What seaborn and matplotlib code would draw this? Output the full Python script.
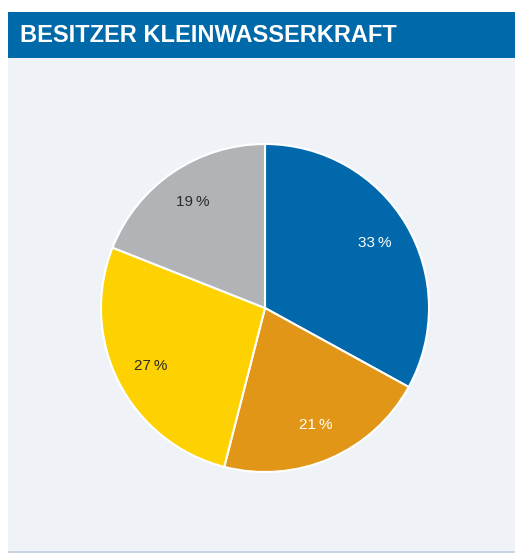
import matplotlib
matplotlib.use("Agg")
import matplotlib.pyplot as plt
import seaborn as sns
from matplotlib.patches import Rectangle

# data
owners = ["A", "B", "C", "D"]
shares = [33, 21, 27, 19]
colors = ["#0068AB", "#E19617", "#FDD200", "#B2B3B6"]
label_colors = ["white", "white", "#2b2b2b", "#2b2b2b"]
title = "BESITZER KLEINWASSERKRAFT"

sns.set_theme(style="white")
plt.rcParams['font.family'] = ['Liberation Sans Narrow', 'Liberation Sans', 'DejaVu Sans']

W, H = 516, 554
fig = plt.figure(figsize=(W / 100, H / 100), dpi=100)
fig.patch.set_facecolor("white")

# panel background + title bar (pixel coords converted to figure fraction)
def px_rect(x0, y0, x1, y1, **kw):
    fig.patches.append(Rectangle((x0 / W, 1 - y1 / H), (x1 - x0) / W, (y1 - y0) / H,
                                 transform=fig.transFigure, zorder=-5, **kw))

px_rect(8, 58, 515, 552, facecolor="#EFF3F8", edgecolor="none")
px_rect(8, 551, 515, 553, facecolor="#C9D5E2", edgecolor="none")
px_rect(8, 12, 515, 58, facecolor="#0069AA", edgecolor="none")
fig.text(20 / W, 1 - 36 / H, title, color="white", fontsize=17, fontweight="bold",
         va="center", ha="left")

# pie
cx, cy, r = 265, 308, 164
ax = fig.add_axes([(cx - r) / W, 1 - (cy + r) / H, 2 * r / W, 2 * r / H])
ax.set_facecolor("none")
wedges, texts, autotexts = ax.pie(
    shares, colors=colors, startangle=90, counterclock=False,
    autopct=lambda p: f"{p:.0f}\u2009%", pctdistance=0.78,
    wedgeprops=dict(edgecolor="white", linewidth=1.5))
for t, c in zip(autotexts, label_colors):
    t.set_color(c)
    t.set_fontsize(11)
ax.set_xlim(-1, 1)
ax.set_ylim(-1, 1)
ax.set_aspect("equal")
ax.axis("off")

fig.savefig("out.png", dpi=100)
